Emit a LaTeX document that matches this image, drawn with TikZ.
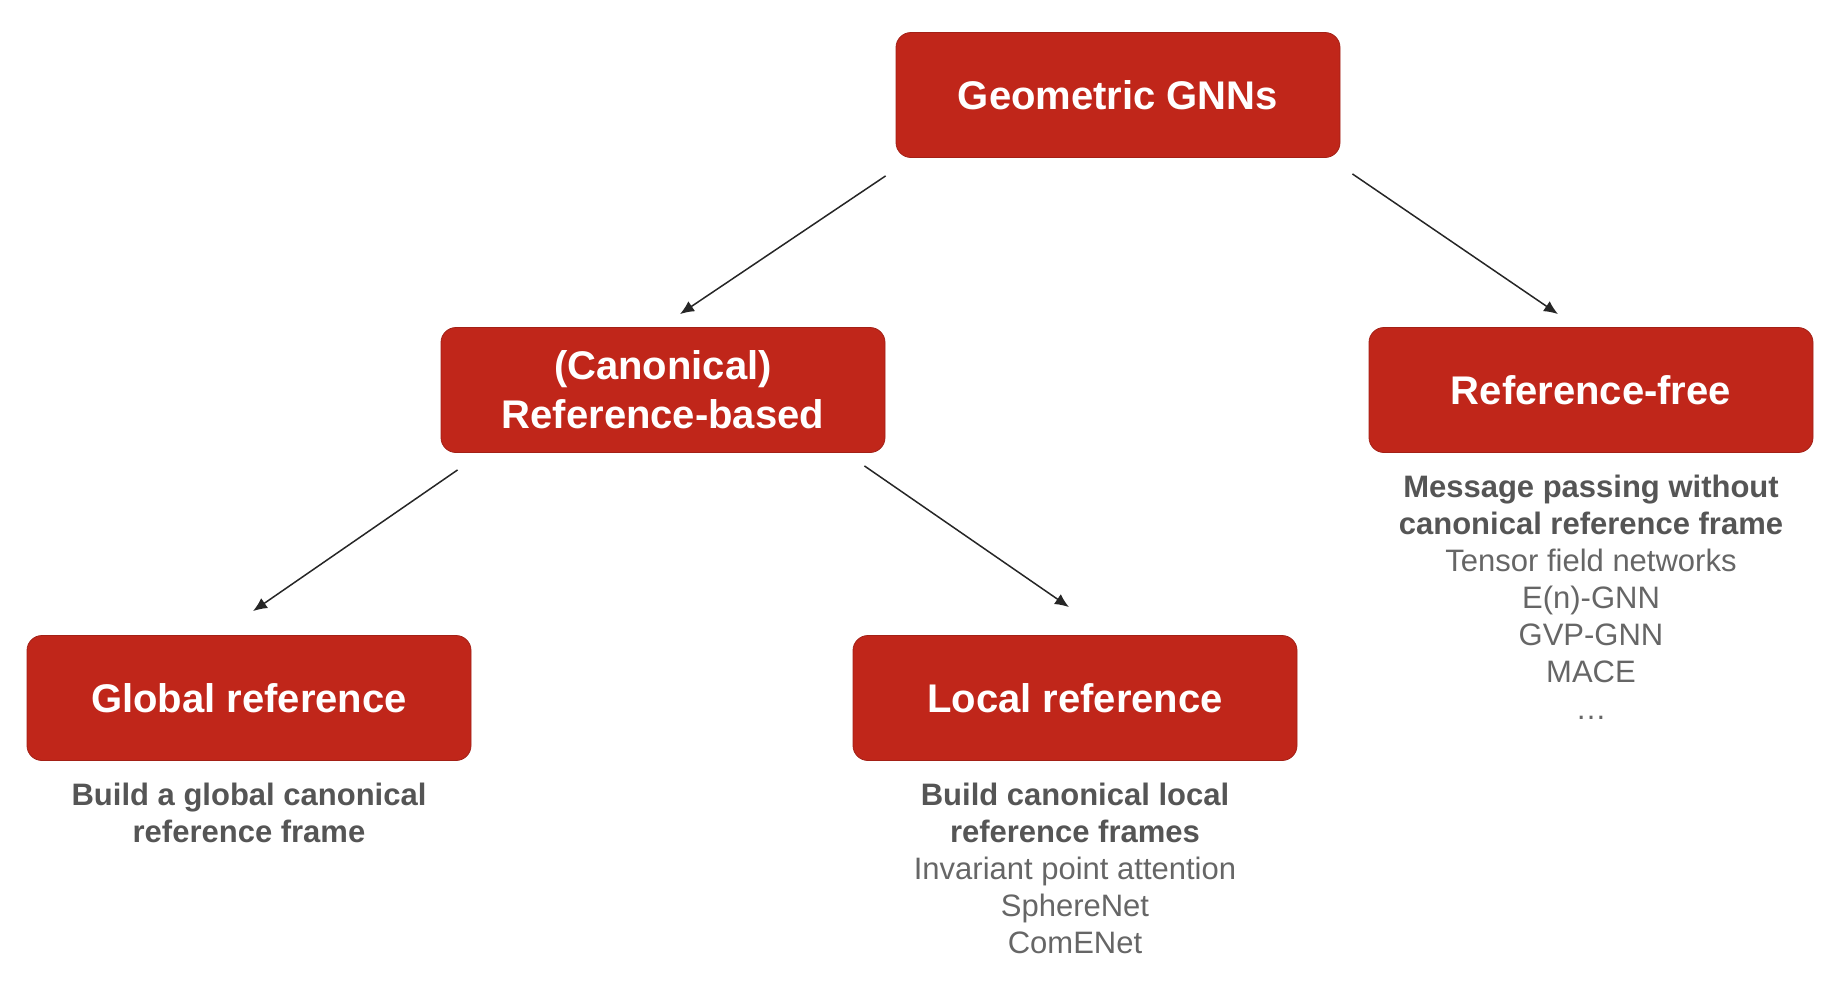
\documentclass[tikz,border=0pt]{standalone}
\usepackage{fontspec}
\setmainfont{Liberation Sans}
\usetikzlibrary{positioning,arrows.meta}
\definecolor{gnnred}{RGB}{192,38,26}
\definecolor{darkgrey}{RGB}{85,85,85}
\definecolor{midgrey}{RGB}{102,102,102}
\newcommand{\notehead}[1]{\textcolor{darkgrey}{\bfseries #1}}

\begin{document}
\begin{tikzpicture}[x=0.5pt, y=-0.5pt]
	\tikzstyle{box}=[rectangle, rounded corners=7.5pt, fill=gnnred, draw=gnnred!85!black, line width=0.4pt, minimum width=222pt, minimum height=62.5pt, text=white, align=center, font=\fontsize{20}{24.5}\selectfont\bfseries]
	\tikzstyle{note}=[inner sep=0pt, align=center, text=midgrey, font=\fontsize{15.5}{18.5}\selectfont]
	\tikzstyle{arr}=[-{Latex[length=7pt, width=6pt]}, line width=0.75pt, black!85]
	\useasboundingbox (0,0) rectangle (1838,982);
	% boxes
	\node[box] (geo) at (1118, 95) {Geometric GNNs};
	\node[box] (canon) at (663, 390) {(Canonical)\\Reference-based};
	\node[box] (free) at (1591, 390) {Reference-free};
	\node[box] (glob) at (249, 698) {Global reference};
	\node[box] (loc) at (1075, 698) {Local reference};
	% notes under the boxes
	\node[note, below=11pt of free] (freenote) {\notehead{Message passing without}\\ \notehead{canonical reference frame}\\ Tensor field networks\\ E(n)-GNN\\ GVP-GNN\\ MACE\\ \ldots};
	\node[note, below=11pt of glob] (globnote) {\notehead{Build a global canonical}\\ \notehead{reference frame}};
	\node[note, below=11pt of loc] (locnote) {\notehead{Build canonical local}\\ \notehead{reference frames}\\ Invariant point attention\\ SphereNet\\ ComENet};
	% arrows
	\draw[arr] ([shift={(-10,18)}]geo.south west) -- ([shift={(17,-13)}]canon.north);
	\draw[arr] ([shift={(12,16)}]geo.south east) -- ([shift={(-33,-13)}]free.north);
	\draw[arr] ([shift={(17,17)}]canon.south west) -- ([shift={(4,-24)}]glob.north);
	\draw[arr] ([shift={(-21,13)}]canon.south east) -- ([shift={(-6,-28)}]loc.north);
\end{tikzpicture}
\end{document}
